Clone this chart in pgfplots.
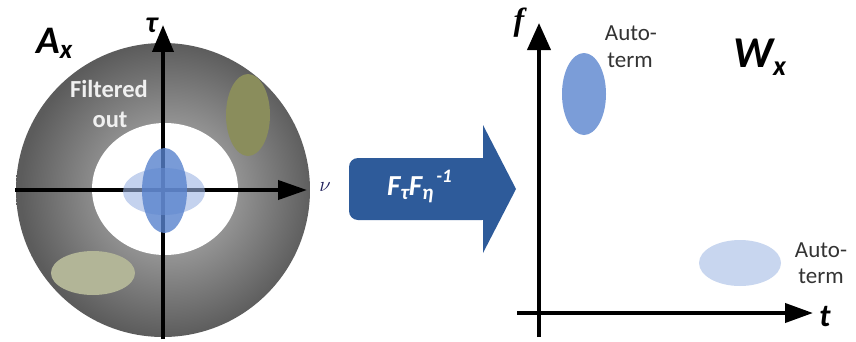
\documentclass[border=0pt]{standalone}
\usepackage{fontspec}
\setmainfont{Carlito}
\newfontfamily\lserif{Liberation Serif}
\usepackage{pgfplots}
\pgfplotsset{compat=1.18}
\usetikzlibrary{arrows.meta}
\definecolor{arrowblue}{RGB}{46,91,154}
\definecolor{olive1}{RGB}{138,141,92}
\definecolor{khaki1}{RGB}{178,181,151}
\definecolor{lblueT}{RGB}{157,180,227}
\definecolor{mblueT}{RGB}{88,130,205}
\definecolor{rblue}{RGB}{123,157,216}
\definecolor{rlblue}{RGB}{200,214,239}
\definecolor{diskin}{RGB}{172,172,172}
\definecolor{diskmid}{RGB}{148,148,148}
\definecolor{diskout}{RGB}{92,92,92}
\definecolor{nucol}{RGB}{30,30,90}
\pgfdeclareradialshading{ringshade}{\pgfpoint{1.5bp}{0bp}}{color(0bp)=(diskin); color(11bp)=(diskmid); color(25bp)=(diskout); color(50bp)=(diskout)}
\newcommand{\fs}[1]{\fontsize{#1}{#1}\selectfont}
\begin{document}
\begin{tikzpicture}
\path (0,0) rectangle (856pt,339pt);
% ---------------- left: ambiguity domain ----------------
\begin{axis}[
  set layers, x=1pt, y=1pt, anchor=origin, at={(163pt,149pt)},
  xmin=-148, xmax=144, ymin=-149, ymax=165,
  axis lines=middle, xtick=\empty, ytick=\empty, clip=false,
  x axis line style={line width=4pt, -{Triangle[length=29pt,width=19pt]}},
  y axis line style={line width=4pt, -{Triangle[length=27pt,width=21pt]}},
]
\begin{pgfonlayer}{axis background}
\shade[shading=ringshade] (axis cs:0,0) circle [radius=147];
\fill[white] (axis cs:2,1) ellipse [x radius=73, y radius=66];
\end{pgfonlayer}
\fill[olive1] (axis cs:85,75) ellipse [x radius=22, y radius=41];
\fill[khaki1] (axis cs:-70,-83) ellipse [x radius=42, y radius=22];
\fill[lblueT, fill opacity=0.6] (axis cs:1,-1.5) ellipse [x radius=41, y radius=23.5];
\fill[mblueT, fill opacity=0.8] (axis cs:1.5,-0.5) ellipse [x radius=22.5, y radius=42.5];
\node[inner sep=0, anchor=center, font=\fs{30}\bfseries\itshape] at (axis cs:-11.5,164.5) {τ};
\node[inner sep=0, anchor=base west, font=\fs{39}\bfseries\itshape] at (axis cs:-127,137) {A\raisebox{-5pt}{\fs{27}x}};
\node[inner sep=0, anchor=base, font=\fs{24.5}\bfseries, text=white!94!black] at (axis cs:-54,93) {Filtered};
\node[inner sep=0, anchor=base, font=\fs{24.5}\bfseries, text=white!94!black] at (axis cs:-53,63) {out};
\node[inner sep=0, anchor=center, text=nucol] at (axis cs:162,3) {\fs{22}$\nu$};
\end{axis}
% ---------------- right: time-frequency domain ----------------
\begin{axis}[
  x=1pt, y=1pt, anchor=origin, at={(539pt,26pt)},
  xmin=-22, xmax=274, ymin=-24, ymax=290,
  axis lines=middle, xtick=\empty, ytick=\empty, clip=false,
  x axis line style={line width=4pt, -{Triangle[length=28pt,width=19pt]}},
  y axis line style={line width=4pt, -{Triangle[length=27pt,width=23pt]}},
]
% transform arrow
\fill[arrowblue, rounded corners=9pt] (axis cs:-190,93) rectangle (axis cs:-48,155);
\fill[arrowblue] (axis cs:-56,188) -- (axis cs:-23,124) -- (axis cs:-56,60) -- cycle;
\node[inner sep=0, anchor=base west, text=white, font=\fs{29}\bfseries\itshape] at (axis cs:-152,118)
  {F\raisebox{-4pt}{\fs{21}τ}F\raisebox{-4pt}{\fs{21}η}\hspace{3pt}\raisebox{13pt}{\fs{19}-1}};
\fill[rblue] (axis cs:45,219) ellipse [x radius=22, y radius=41];
\fill[rlblue] (axis cs:201,50) ellipse [x radius=41, y radius=23];
\node[inner sep=0, anchor=center, font=\fs{32}\lserif\bfseries\itshape] at (axis cs:-20,290) {f};
\node[inner sep=0, anchor=center, font=\fs{32}\bfseries\itshape] at (axis cs:286,-4) {t};
\node[inner sep=0, anchor=base west, font=\fs{44}\bfseries\itshape] at (axis cs:194,246) {W\raisebox{-8pt}{\fs{28}x}};
\node[inner sep=0, anchor=base, font=\fs{23}, text=black!80] at (axis cs:92,273) {Auto-};
\node[inner sep=0, anchor=base, font=\fs{23}, text=black!80] at (axis cs:91,246) {term};
\node[inner sep=0, anchor=base, font=\fs{23}, text=black!80] at (axis cs:282,56) {Auto-};
\node[inner sep=0, anchor=base, font=\fs{23}, text=black!80] at (axis cs:282,30) {term};
\end{axis}
\end{tikzpicture}
\end{document}
